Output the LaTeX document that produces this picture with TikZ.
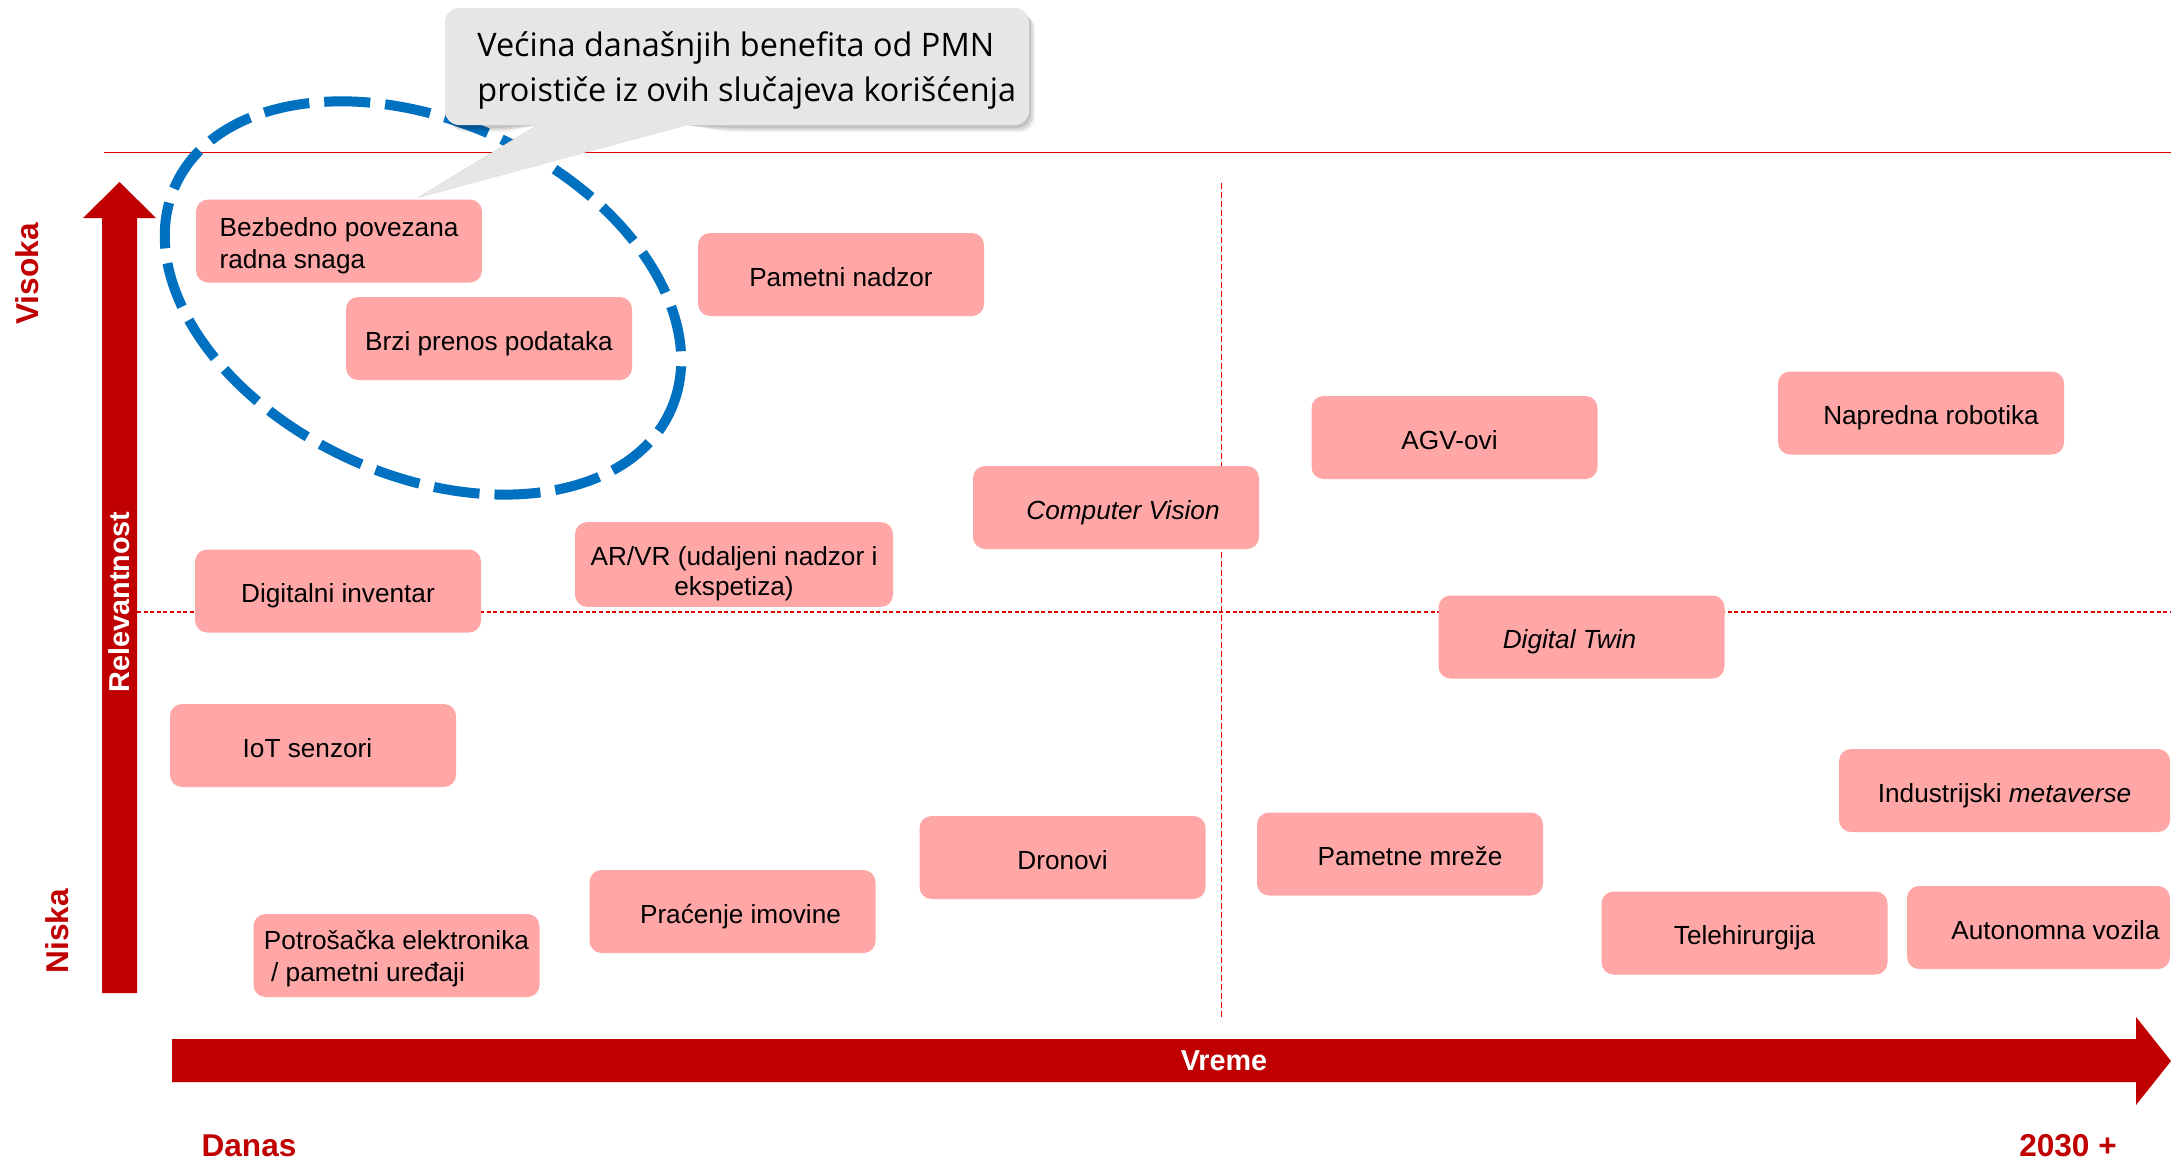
\documentclass[tikz,border=0pt]{standalone}
\usepackage{fontspec}
\setmainfont{Liberation Sans}
\newfontfamily\callfont{Open Sans}
\usetikzlibrary{calc}
\definecolor{axisred}{HTML}{C00000}
\definecolor{linered}{HTML}{E00000}
\definecolor{pinkbox}{HTML}{FFA7A7}
\definecolor{ellblue}{HTML}{0070C0}
\definecolor{callgray}{HTML}{E6E6E6}
\newcommand\ucfont{\fontsize{13.1}{16}\selectfont}
\begin{document}
\begin{tikzpicture}[x=0.5pt,y=-0.5pt,
  usecase/.style={rectangle, rounded corners=6pt, fill=pinkbox, draw=none,
    minimum width=143pt, minimum height=41.5pt, inner sep=3pt, align=center,
    font=\ucfont, text=black},
  uc/.style={usecase, text height=11.9pt, text depth=0pt},
  axislbl/.style={font=\fontsize{15.8}{18}\selectfont\bfseries, text=axisred, inner sep=0pt},
  whitelbl/.style={font=\fontsize{14.4}{17}\selectfont\bfseries, text=white, inner sep=0pt},
  calltext/.style={font=\callfont\fontsize{16.2}{21}\selectfont, text=black, inner sep=0pt, anchor=base west},
  reddash/.style={linered, line width=0.75pt, dash pattern=on 2pt off 1.3pt},
  reddashv/.style={linered, line width=0.75pt, dash pattern=on 3pt off 1.5pt},
  calloutshape/.style={fill=callgray}
]
\useasboundingbox (0,0) rectangle (2171,1162);

% guide lines
\coordinate (topL) at (104,152.5);
\coordinate (topR) at (2171,152.5);
\draw[linered, line width=0.8pt] (topL) -- (topR);
\coordinate (hdL) at (137,612);
\coordinate (hdR) at (2171,612);
\draw[reddash] (hdL) -- (hdR);
\coordinate (vdT) at (1221.5,183);
\coordinate (vdB) at (1221.5,1020);
\draw[reddashv] (vdT) -- (vdB);

% axes arrows
\fill[axisred] (102,993) -- (102,218) -- (83,218) -- (119.5,182) -- (156,218) -- (137,218) -- (137,993) -- cycle;
\fill[axisred] (172,1039) -- (2136,1039) -- (2136,1017) -- (2171,1061) -- (2136,1105) -- (2136,1082) -- (172,1082) -- cycle;

% use case boxes
\node[usecase, align=left] (b1) at (339,241) {\rule{0pt}{14.5pt}Bezbedno povezana\\radna snaga};
\node[uc] (b2) at (489,338.5) {Brzi prenos podataka};
\node[uc] (b3) at (841,274.5) {Pametni nadzor};
\node[uc] (b4) at (338,591) {Digitalni inventar};
\node[usecase, minimum width=159pt, font=\fontsize{13.1}{15}\selectfont] (b5) at (734,564.5) {\rule{0pt}{18.6pt}AR/VR (udaljeni nadzor i\\ekspetiza)};
\node[uc] (b6) at (313,745.5) {IoT senzori\hspace*{5.5pt}};
\node[uc] (b7) at (732.5,911.5) {\hspace*{8pt}Praćenje imovine};
\node[usecase, align=left] (b8) at (396.5,955.5) {\rule{0pt}{12.3pt}Potrošačka elektronika\\\hspace*{3.6pt}/ pametni uređaji};
\node[uc] (b9) at (1062.5,857.5) {Dronovi};
\node[uc] (b10) at (1116,507.5) {\hspace*{7pt}\itshape Computer Vision};
\node[uc] (b11) at (1454.5,437.5) {AGV-ovi\hspace*{5pt}};
\node[uc] (b12) at (1921,413) {\hspace*{10pt}Napredna robotika};
\node[uc] (b13) at (1581.5,637) {\itshape Digital Twin\hspace*{12pt}};
\node[uc, minimum width=165.5pt] (b14) at (2004.5,790.5) {Industrijski \textit{metaverse}};
\node[uc] (b15) at (1400,854) {\hspace*{10pt}Pametne mreže};
\node[uc] (b16) at (1744.5,933) {Telehirurgija};
\node[uc, minimum width=131.5pt] (b17) at (2038.5,927.5) {\hspace*{17pt}Autonomna vozila};

% dashed blue ellipse
\coordinate (ellc) at (423,298);
\draw[ellblue, line width=5pt, dash pattern=on 23pt off 7.5pt,
  rotate around={-24.5:(ellc)}] (ellc) ellipse (136pt and 88.5pt);

% callout
\coordinate (tip) at (417,198);
\coordinate (tailA) at (537,125);
\coordinate (tailB) at (687,125);
\foreach \dx/\dy/\op in {2/3/0.10, 4/5/0.10, 6/7/0.06} {
  \fill[black, opacity=\op, shift={(\dx,\dy)}]
    (tip) -- (tailA) -- (500,125) [rounded corners=7pt] -- (445,125) -- (445,8) -- (1029,8) -- (1029,125) -- (720,125) [sharp corners] -- (tailB) -- cycle;
}
\fill[calloutshape]
  (tip) -- (tailA) -- (500,125) [rounded corners=7pt] -- (445,125) -- (445,8) -- (1029,8) -- (1029,125) -- (720,125) [sharp corners] -- (tailB) -- cycle;
\node[calltext] (callA) at (477,56) {Većina današnjih benefita od PMN};
\node[calltext] (callB) at (477,101) {proističe iz ovih slučajeva korišćenja};

% axis labels
\node[axislbl, rotate=90] (visoka) at (27,274) {Visoka};
\node[axislbl, rotate=90] (niska) at (57,931) {Niska};
\node[whitelbl, rotate=90] (relev) at (119.5,602) {Relevantnost};
\node[whitelbl] (vreme) at (1224,1061) {Vreme};
\node[axislbl] (danas) at (249,1146) {Danas};
\node[axislbl] (year) at (2068,1146) {2030 +};
\end{tikzpicture}
\end{document}
